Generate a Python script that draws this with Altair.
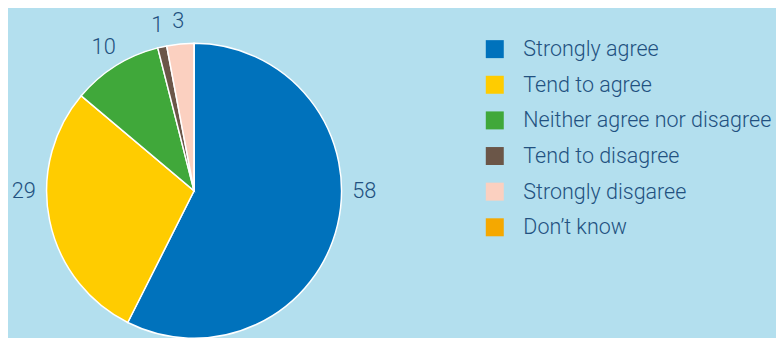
import altair as alt
import pandas as pd

categories = ["Strongly agree", "Tend to agree", "Neither agree nor disagree",
              "Tend to disagree", "Strongly disgaree", "Don\u2019t know"]
values = [58, 29, 10, 1, 3, 0]
colors = ["#0072BC", "#FFCC00", "#40A83A", "#6B5648", "#FBD0C0", "#F5A800"]

df = pd.DataFrame({"category": categories, "value": values,
                   "idx": list(range(len(categories)))})

BG = "#B3DFEE"
TXT = "#225180"
CX, CY, R = 188, 183, 149

color = alt.Color("category:N", sort=categories,
                  scale=alt.Scale(domain=categories, range=colors),
                  legend=alt.Legend(title=None, orient="none", legendX=481, legendY=29,
                                    symbolType="square", symbolSize=330,
                                    symbolStrokeWidth=0, labelFont="Roboto",
                                    labelFontSize=21.7, labelFontWeight=300,
                                    labelColor=TXT, labelOffset=18, rowPadding=13.0,
                                    labelLimit=400, padding=0))

base = alt.Chart(df)

arcs = base.mark_arc(outerRadius=R, stroke="white", strokeWidth=1.5).encode(
    theta=alt.Theta("value:Q", stack=True),
    color=color,
    order=alt.Order("idx:Q"),
    x=alt.value(CX), y=alt.value(CY),
)

labels = base.transform_window(
    cum="sum(value)", sort=[alt.SortField("idx")],
    frame=[None, 0]
).transform_joinaggregate(
    total="sum(value)"
).transform_calculate(
    s="(datum.cum - datum.value) / datum.total",
    e="datum.cum / datum.total",
).transform_calculate(
    f="(datum.s <= 0.25 && datum.e >= 0.25) ? 0.25 : ((datum.s <= 0.75 && datum.e >= 0.75) ? 0.75 : (datum.s + datum.e) / 2)"
).transform_filter(
    "datum.value > 0"
).mark_text(radius=172, font="Roboto", fontSize=22, fontWeight=300, color=TXT).encode(
    theta=alt.Theta("f:Q", stack=None,
                    scale=alt.Scale(domain=[0, 1], range=[0, 6.283185307179586])),
    text=alt.Text("value:Q"),
    x=alt.value(CX), y=alt.value(CY),
)

chart = alt.layer(arcs, labels).resolve_scale(theta="independent").properties(
    width=776, height=330, autosize=alt.AutoSizeParams(type="none"),
    padding=0, background=BG
).configure_view(stroke=None)

chart.save("out.html", embed_options={"renderer": "svg", "actions": False})
